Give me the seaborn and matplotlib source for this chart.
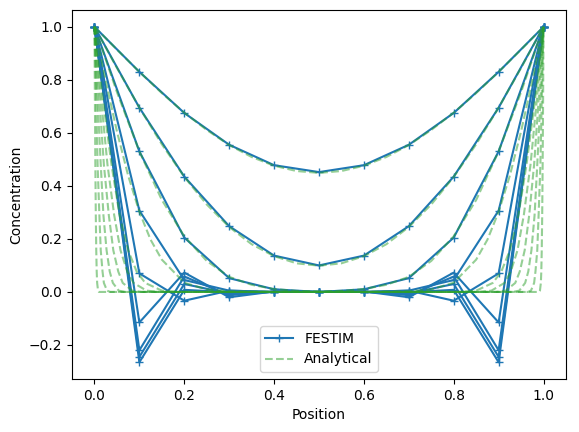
import matplotlib
matplotlib.use("Agg")
import matplotlib.pyplot as plt
import seaborn as sns

# FESTIM solution on the coarse mesh, one list per saved time
festim_x = [0.0, 0.1, 0.2, 0.3, 0.4, 0.5, 0.6, 0.7, 0.8, 0.9, 1.0]
festim_c = [
    [1, -0.265, 0.008, -0.001, 0.0, 0.0, 0.0, -0.001, 0.008, -0.265, 1],
    [1, -0.245, 0.03, -0.006, 0.0, 0.0, 0.0, -0.006, 0.03, -0.245, 1],
    [1, -0.22, 0.058, -0.012, 0.001, 0.0, 0.001, -0.012, 0.058, -0.22, 1],
    [1, -0.115, 0.073, -0.02, 0.002, 0.0, 0.002, -0.02, 0.073, -0.115, 1],
    [1, 0.07, -0.033, 0.005, 0.0, 0.0, 0.0, 0.005, -0.033, 0.07, 1],
    [1, 0.307, 0.045, 0.005, 0.0, 0.0, 0.0, 0.005, 0.045, 0.307, 1],
    [1, 0.53, 0.205, 0.052, 0.01, 0.0, 0.01, 0.052, 0.205, 0.53, 1],
    [1, 0.695, 0.435, 0.248, 0.137, 0.10, 0.137, 0.248, 0.435, 0.695, 1],
    [1, 0.83, 0.675, 0.555, 0.478, 0.452, 0.478, 0.555, 0.675, 0.83, 1],
]

# analytical profiles, early times (thin boundary layers at both ends)
edge_c = [1, 0.724, 0.48, 0.289, 0.157, 0.077, 0.034, 0.005, 0.0,
          0.0, 0.005, 0.034, 0.077, 0.157, 0.289, 0.48, 0.724, 1]
edge_x = [
    [0, 0.001, 0.002, 0.003, 0.004, 0.005, 0.006, 0.008, 0.010,
     0.990, 0.992, 0.994, 0.995, 0.996, 0.997, 0.998, 0.999, 1.0],
    [0, 0.004, 0.007, 0.011, 0.014, 0.018, 0.021, 0.028, 0.035,
     0.965, 0.972, 0.979, 0.982, 0.986, 0.989, 0.993, 0.996, 1.0],
    [0, 0.007, 0.014, 0.020, 0.027, 0.034, 0.041, 0.054, 0.068,
     0.932, 0.946, 0.959, 0.966, 0.973, 0.980, 0.986, 0.993, 1.0],
    [0, 0.011, 0.021, 0.032, 0.042, 0.053, 0.063, 0.084, 0.105,
     0.895, 0.916, 0.937, 0.947, 0.958, 0.968, 0.979, 0.989, 1.0],
    [0, 0.015, 0.029, 0.044, 0.058, 0.073, 0.087, 0.116, 0.145,
     0.855, 0.884, 0.913, 0.927, 0.942, 0.956, 0.971, 0.985, 1.0],
    [0, 0.019, 0.038, 0.056, 0.075, 0.094, 0.113, 0.150, 0.188,
     0.812, 0.850, 0.887, 0.906, 0.925, 0.944, 0.962, 0.981, 1.0],
]

# analytical profiles, later times
late_x_d = [0, 0.025, 0.05, 0.075, 0.1, 0.125, 0.15, 0.2, 0.25, 0.3, 0.4, 0.5,
            0.6, 0.7, 0.75, 0.8, 0.85, 0.875, 0.9, 0.925, 0.95, 0.975, 1]
late_c_d = [1, 0.797, 0.606, 0.439, 0.302, 0.197, 0.122, 0.035, 0.0095, 0.002, 0.0, 0.0,
            0.0, 0.002, 0.0095, 0.035, 0.122, 0.197, 0.302, 0.439, 0.606, 0.797, 1]
late_x = [0, 0.05, 0.1, 0.15, 0.2, 0.25, 0.3, 0.35, 0.4, 0.45, 0.5,
          0.55, 0.6, 0.65, 0.7, 0.75, 0.8, 0.85, 0.9, 0.95, 1]
late_c_c = [1, 0.754, 0.53, 0.347, 0.21, 0.117, 0.057, 0.027, 0.011, 0.004, 0.002,
            0.004, 0.011, 0.027, 0.057, 0.117, 0.21, 0.347, 0.53, 0.754, 1]
late_c_b = [1, 0.845, 0.695, 0.557, 0.434, 0.33, 0.245, 0.18, 0.135, 0.108, 0.099,
            0.108, 0.135, 0.18, 0.245, 0.33, 0.434, 0.557, 0.695, 0.845, 1]
late_c_a = [1, 0.914, 0.83, 0.75, 0.676, 0.611, 0.554, 0.509, 0.476, 0.456, 0.449,
            0.456, 0.476, 0.509, 0.554, 0.611, 0.676, 0.75, 0.83, 0.914, 1]

analytical = [(x, edge_c) for x in edge_x]
analytical += [(late_x_d, late_c_d), (late_x, late_c_c),
               (late_x, late_c_b), (late_x, late_c_a)]

fig, ax = plt.subplots(figsize=(5.79, 4.32), dpi=100)
fig.subplots_adjust(left=72 / 579, right=566 / 579, bottom=1 - 379 / 432, top=1 - 10 / 432)

for i, c_num in enumerate(festim_c):
    sns.lineplot(x=festim_x, y=c_num, ax=ax, color="tab:blue", marker="+",
                 markeredgecolor="tab:blue", markeredgewidth=1.0, markersize=6,
                 label="FESTIM" if i == 0 else None, sort=False)

for i, (x_an, c_an) in enumerate(analytical):
    sns.lineplot(x=x_an, y=c_an, ax=ax, color="tab:green", linestyle="--",
                 alpha=0.5, label="Analytical" if i == 0 else None, sort=False)

ax.set_xlabel("Position")
ax.set_ylabel("Concentration")
ax.legend(loc="lower center")
fig.savefig("out.png", dpi=100)
